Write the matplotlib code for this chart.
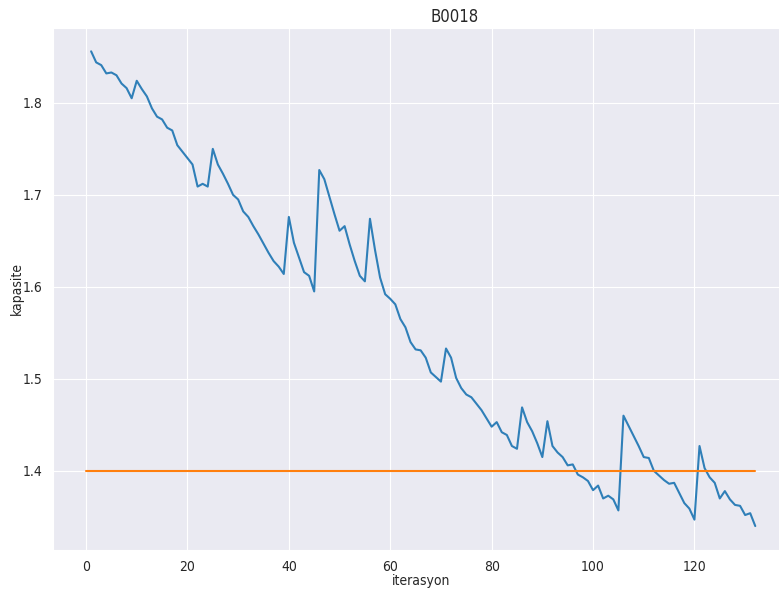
import numpy as np
import matplotlib
matplotlib.use('Agg')
import matplotlib.pyplot as plt
import seaborn as sns

# capacity per iteration
kapasite = [
    1.856, 1.844, 1.841, 1.832, 1.833, 1.830, 1.821, 1.816, 1.805, 1.824,
    1.815, 1.807, 1.794, 1.785, 1.782, 1.773, 1.770, 1.754, 1.747, 1.740,
    1.733, 1.709, 1.712, 1.709, 1.750, 1.733, 1.723, 1.712, 1.700, 1.695,
    1.682, 1.676, 1.666, 1.657, 1.647, 1.637, 1.628, 1.622, 1.614, 1.676,
    1.648, 1.632, 1.616, 1.612, 1.595, 1.727, 1.717, 1.698, 1.679, 1.661,
    1.666, 1.646, 1.628, 1.612, 1.606, 1.674, 1.640, 1.610, 1.592, 1.587,
    1.581, 1.565, 1.556, 1.540, 1.532, 1.531, 1.523, 1.507, 1.502, 1.497,
    1.533, 1.523, 1.501, 1.490, 1.483, 1.480, 1.473, 1.466, 1.457, 1.448,
    1.453, 1.442, 1.439, 1.427, 1.424, 1.469, 1.453, 1.443, 1.430, 1.415,
    1.454, 1.427, 1.420, 1.415, 1.406, 1.407, 1.396, 1.393, 1.389, 1.379,
    1.384, 1.370, 1.373, 1.369, 1.357, 1.460, 1.449, 1.438, 1.427, 1.415,
    1.414, 1.400, 1.395, 1.390, 1.386, 1.387, 1.376, 1.365, 1.359, 1.347,
    1.427, 1.403, 1.393, 1.387, 1.370, 1.378, 1.369, 1.363, 1.362, 1.352,
    1.354, 1.340,
]
iterasyon = list(range(1, len(kapasite) + 1))

esik = 1.4                      # threshold line
esik_x = [0, len(kapasite)]

sns.set_style('darkgrid')
plt.rcParams['font.family'] = ['DejaVu Sans']
plt.rcParams['font.stretch'] = 'condensed'

fig = plt.figure(figsize=(7.79, 5.91), dpi=100)
ax = fig.add_axes([0.0675, 0.0697, 0.945, 0.8836])

ax.plot(iterasyon, kapasite, color='#2f7fb8', linewidth=1.5)
ax.plot(esik_x, [esik, esik], color='#ff7f0e', linewidth=1.5)

ax.set_xlabel('iterasyon', fontsize=10, labelpad=0.5)
ax.set_ylabel('kapasite', fontsize=10, labelpad=-1)
ax.tick_params(labelsize=10)
ax.set_yticks([1.4, 1.5, 1.6, 1.7, 1.8])

fig.text(455 / 779, 1 - 17 / 591, 'B0018', fontsize=12, ha='center', va='center', color='#262626')

fig.savefig('out.png', dpi=100)
